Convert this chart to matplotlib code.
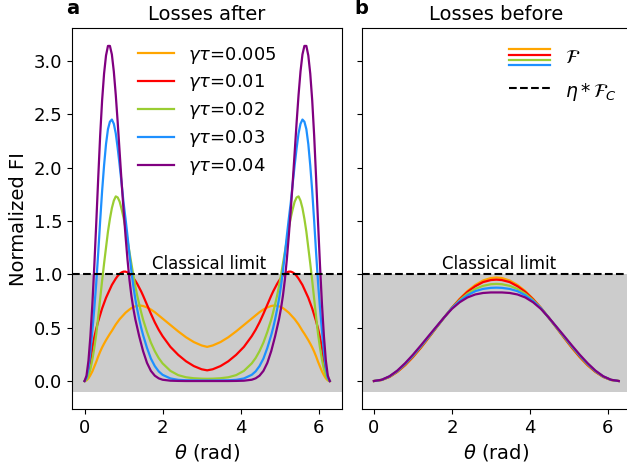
import matplotlib
matplotlib.use("Agg")
import matplotlib.pyplot as plt
from matplotlib.lines import Line2D
from matplotlib.legend_handler import HandlerBase
import numpy as np

# ---------------- data ----------------
theta_a = [0.0, 0.05, 0.1, 0.15, 0.2, 0.25, 0.3, 0.35, 0.4, 0.45, 0.5, 0.55, 0.6, 0.65, 0.7,
           0.75, 0.8, 0.85, 0.9, 0.95, 1.0, 1.05, 1.1, 1.15, 1.2, 1.25, 1.3, 1.35, 1.4, 1.45,
           1.5, 1.6, 1.7, 1.8, 1.9, 2.0, 2.2, 2.4, 2.6, 2.8, 3.0, 3.1416,
           3.283, 3.483, 3.683, 3.883, 4.083, 4.283, 4.383, 4.483, 4.583, 4.683,
           4.783, 4.833, 4.883, 4.933, 4.983, 5.033, 5.083, 5.133, 5.183, 5.233, 5.283,
           5.333, 5.383, 5.433, 5.483, 5.533, 5.583, 5.633, 5.683, 5.733, 5.783, 5.833,
           5.883, 5.933, 5.983, 6.033, 6.083, 6.133, 6.183, 6.233, 6.283]

fi_after_0005 = [0.0, 0.006, 0.025, 0.055, 0.09, 0.135, 0.18, 0.23, 0.275, 0.315, 0.35, 0.383,
                 0.413, 0.443, 0.47, 0.50, 0.53, 0.555, 0.58, 0.60, 0.62, 0.64, 0.655, 0.67,
                 0.683, 0.693, 0.70, 0.705, 0.707, 0.706, 0.703, 0.69, 0.67, 0.645, 0.615,
                 0.585, 0.525, 0.465, 0.41, 0.365, 0.333, 0.32,
                 0.333, 0.365, 0.41, 0.465, 0.525, 0.585, 0.615, 0.645, 0.67, 0.69,
                 0.703, 0.706, 0.707, 0.705, 0.70, 0.693, 0.683, 0.67, 0.655, 0.64, 0.62,
                 0.60, 0.58, 0.555, 0.53, 0.50, 0.47, 0.443, 0.413, 0.383, 0.35, 0.315,
                 0.275, 0.23, 0.18, 0.135, 0.09, 0.055, 0.025, 0.006, 0.0]

fi_after_001 = [0.0, 0.025, 0.09, 0.19, 0.31, 0.41, 0.49, 0.56, 0.62, 0.68, 0.73, 0.78, 0.82,
                0.86, 0.90, 0.93, 0.96, 0.985, 1.005, 1.018, 1.025, 1.025, 1.018, 1.005, 0.99,
                0.965, 0.94, 0.91, 0.875, 0.84, 0.80, 0.715, 0.63, 0.55, 0.48, 0.42, 0.32,
                0.245, 0.185, 0.14, 0.11, 0.10,
                0.11, 0.14, 0.185, 0.245, 0.32, 0.42, 0.48, 0.55, 0.63, 0.715,
                0.80, 0.84, 0.875, 0.91, 0.94, 0.965, 0.99, 1.005, 1.018, 1.025, 1.025,
                1.018, 1.005, 0.985, 0.96, 0.93, 0.90, 0.86, 0.82, 0.78, 0.73, 0.68,
                0.62, 0.56, 0.49, 0.41, 0.31, 0.19, 0.09, 0.025, 0.0]

fi_after_002 = [0.0, 0.012, 0.05, 0.11, 0.2, 0.31, 0.44, 0.6, 0.77, 0.94, 1.1, 1.25, 1.40,
                1.52, 1.62, 1.69, 1.73, 1.72, 1.68, 1.61, 1.53, 1.43, 1.32, 1.21, 1.10, 0.99,
                0.89, 0.80, 0.72, 0.645, 0.575, 0.46, 0.36, 0.28, 0.215, 0.165, 0.095, 0.055,
                0.035, 0.026, 0.022, 0.021,
                0.022, 0.026, 0.035, 0.055, 0.095, 0.165, 0.215, 0.28, 0.36, 0.46,
                0.575, 0.645, 0.72, 0.80, 0.89, 0.99, 1.10, 1.21, 1.32, 1.43, 1.53,
                1.61, 1.68, 1.72, 1.73, 1.69, 1.62, 1.52, 1.40, 1.25, 1.1, 0.94,
                0.77, 0.6, 0.44, 0.31, 0.2, 0.11, 0.05, 0.012, 0.0]

fi_after_003 = [0.0, 0.03, 0.12, 0.27, 0.47, 0.68, 0.92, 1.2, 1.5, 1.78, 2.02, 2.22, 2.36,
                2.43, 2.45, 2.41, 2.32, 2.18, 2.02, 1.85, 1.67, 1.52, 1.36, 1.19, 1.03, 0.89,
                0.77, 0.67, 0.58, 0.50, 0.43, 0.31, 0.21, 0.14, 0.09, 0.058, 0.024, 0.011,
                0.007, 0.006, 0.005, 0.005,
                0.005, 0.006, 0.007, 0.011, 0.024, 0.058, 0.09, 0.14, 0.21, 0.31,
                0.43, 0.50, 0.58, 0.67, 0.77, 0.89, 1.03, 1.19, 1.36, 1.52, 1.67,
                1.85, 2.02, 2.18, 2.32, 2.41, 2.45, 2.43, 2.36, 2.22, 2.02, 1.78,
                1.5, 1.2, 0.92, 0.68, 0.47, 0.27, 0.12, 0.03, 0.0]

fi_after_004 = [0.0, 0.05, 0.19, 0.42, 0.72, 1.08, 1.48, 1.9, 2.3, 2.63, 2.88, 3.05, 3.14,
                3.14, 3.06, 2.9, 2.68, 2.42, 2.14, 1.86, 1.6, 1.36, 1.14, 0.95, 0.8, 0.68,
                0.58, 0.5, 0.42, 0.35, 0.28, 0.17, 0.095, 0.05, 0.025, 0.012, 0.003, 0.001,
                0.0, 0.0, 0.0, 0.0,
                0.0, 0.0, 0.0, 0.001, 0.003, 0.012, 0.025, 0.05, 0.095, 0.17,
                0.28, 0.35, 0.42, 0.5, 0.58, 0.68, 0.8, 0.95, 1.14, 1.36, 1.6,
                1.86, 2.14, 2.42, 2.68, 2.9, 3.06, 3.14, 3.14, 3.05, 2.88, 2.63,
                2.3, 1.9, 1.48, 1.08, 0.72, 0.42, 0.19, 0.05, 0.0]

theta_b = [0.0, 0.2, 0.4, 0.6, 0.8, 1.0, 1.2, 1.4, 1.6, 1.8, 2.0, 2.2, 2.4, 2.6, 2.8, 3.0,
           3.1416, 3.283, 3.483, 3.683, 3.883, 4.083, 4.283, 4.483, 4.683, 4.883, 5.083,
           5.283, 5.483, 5.683, 5.883, 6.083, 6.283]

fi_before_0005 = [0.0, 0.010, 0.038, 0.085, 0.147, 0.223, 0.309, 0.403, 0.499, 0.595, 0.687,
                  0.770, 0.843, 0.900, 0.942, 0.965, 0.970,
                  0.965, 0.942, 0.900, 0.843, 0.770, 0.687, 0.595, 0.499, 0.403, 0.309,
                  0.223, 0.147, 0.085, 0.038, 0.010, 0.0]
fi_before_001 = [0.0, 0.010, 0.039, 0.087, 0.150, 0.226, 0.312, 0.405, 0.500, 0.594, 0.686,
                 0.766, 0.835, 0.888, 0.927, 0.946, 0.950,
                 0.946, 0.927, 0.888, 0.835, 0.766, 0.686, 0.594, 0.500, 0.405, 0.312,
                 0.226, 0.150, 0.087, 0.039, 0.010, 0.0]
fi_before_002 = [0.0, 0.011, 0.041, 0.091, 0.156, 0.233, 0.319, 0.410, 0.502, 0.594, 0.684,
                 0.758, 0.818, 0.863, 0.892, 0.907, 0.910,
                 0.907, 0.892, 0.863, 0.818, 0.758, 0.684, 0.594, 0.502, 0.410, 0.319,
                 0.233, 0.156, 0.091, 0.041, 0.011, 0.0]
fi_before_003 = [0.0, 0.011, 0.043, 0.094, 0.161, 0.239, 0.325, 0.415, 0.505, 0.595, 0.683,
                 0.750, 0.803, 0.842, 0.863, 0.873, 0.875,
                 0.873, 0.863, 0.842, 0.803, 0.750, 0.683, 0.595, 0.505, 0.415, 0.325,
                 0.239, 0.161, 0.094, 0.043, 0.011, 0.0]
fi_before_004 = [0.0, 0.012, 0.045, 0.098, 0.167, 0.246, 0.332, 0.421, 0.509, 0.596, 0.676,
                 0.738, 0.783, 0.811, 0.825, 0.830, 0.830,
                 0.830, 0.825, 0.811, 0.783, 0.738, 0.676, 0.596, 0.509, 0.421, 0.332,
                 0.246, 0.167, 0.098, 0.045, 0.012, 0.0]

gamma_tau_labels = ["0.005", "0.01", "0.02", "0.03", "0.04"]
colors = ["orange", "red", "yellowgreen", "dodgerblue", "purple"]
classical_limit = 1.0
shade_bottom = -0.1

after_series = [fi_after_0005, fi_after_001, fi_after_002, fi_after_003, fi_after_004]
before_series = [fi_before_0005, fi_before_001, fi_before_002, fi_before_003, fi_before_004]


class StackHandler(HandlerBase):
    def create_artists(self, legend, orig_handle, xdescent, ydescent, width, height,
                       fontsize, trans):
        arts = []
        n = len(orig_handle)
        yc = -ydescent + height / 2.0
        sp = 3.75
        for i, ln in enumerate(orig_handle):
            off = ((n - 1) / 2.0 - i) * sp
            l = Line2D([-xdescent, -xdescent + width], [yc + off, yc + off],
                       color=ln.get_color(), lw=ln.get_linewidth(), transform=trans)
            arts.append(l)
        return arts


fig = plt.figure(figsize=(6.27, 4.68), dpi=100)
axL = fig.add_axes([0.1153, 0.126, 0.4302, 0.8135])
axR = fig.add_axes([0.5769, 0.126, 0.4295, 0.8135], sharey=axL)

lw = 1.6
for ax in (axL, axR):
    ax.axhspan(shade_bottom, classical_limit, color="#cccccc", lw=0, zorder=0)

linesL = []
for vals, c, lab in zip(after_series, colors, gamma_tau_labels):
    l, = axL.plot(theta_a, vals, color=c, lw=lw, label=r"$\gamma\tau$=" + lab)
    linesL.append(l)
axL.axhline(classical_limit, color="k", ls="--", lw=1.5)
axL.text(3.2, 1.05, "Classical limit", ha="center", va="baseline", fontsize=12)

linesR = []
for vals, c in zip(before_series, colors):
    l, = axR.plot(theta_b, vals, color=c, lw=lw)
    linesR.append(l)
dash, = axR.plot([], [], color="k", ls="--", lw=1.5)
axR.axhline(classical_limit, color="k", ls="--", lw=1.5)
axR.text(3.2, 1.05, "Classical limit", ha="center", va="baseline", fontsize=12)

axL.set_xlim(-0.314, 6.597)
axR.set_xlim(-0.314, 6.597)
axL.set_ylim(-0.2625, 3.305)

axL.legend(handles=linesL, loc="upper center", frameon=False, fontsize=13,
           handlelength=2.0, labelspacing=0.38)
axR.legend(handles=[tuple(linesR[:4]), dash],
           labels=[r"$\mathcal{F}$", r"$\eta * \mathcal{F}_C$"],
           handler_map={tuple: StackHandler()}, loc="upper right",
           bbox_to_anchor=(1.011, 1.0), frameon=False,
           fontsize=13.5, handlelength=2.2, handleheight=1.6)

axL.set_title("Losses after", fontsize=14)
axR.set_title("Losses before", fontsize=14)
axL.set_ylabel("Normalized FI", fontsize=14)
axL.set_xlabel(r"$\theta$ (rad)", fontsize=14)
axR.set_xlabel(r"$\theta$ (rad)", fontsize=14)
for ax in (axL, axR):
    ax.tick_params(labelsize=13)
axR.tick_params(labelleft=False)
axL.set_yticks([0.0, 0.5, 1.0, 1.5, 2.0, 2.5, 3.0])
axL.set_xticks([0, 2, 4, 6])
axR.set_xticks([0, 2, 4, 6])

fig.text(66 / 627, 1 - 14 / 468, "a", fontsize=14, fontweight="bold", va="baseline")
fig.text(354 / 627, 1 - 14 / 468, "b", fontsize=14, fontweight="bold", va="baseline")

fig.savefig("out.png", dpi=100)
